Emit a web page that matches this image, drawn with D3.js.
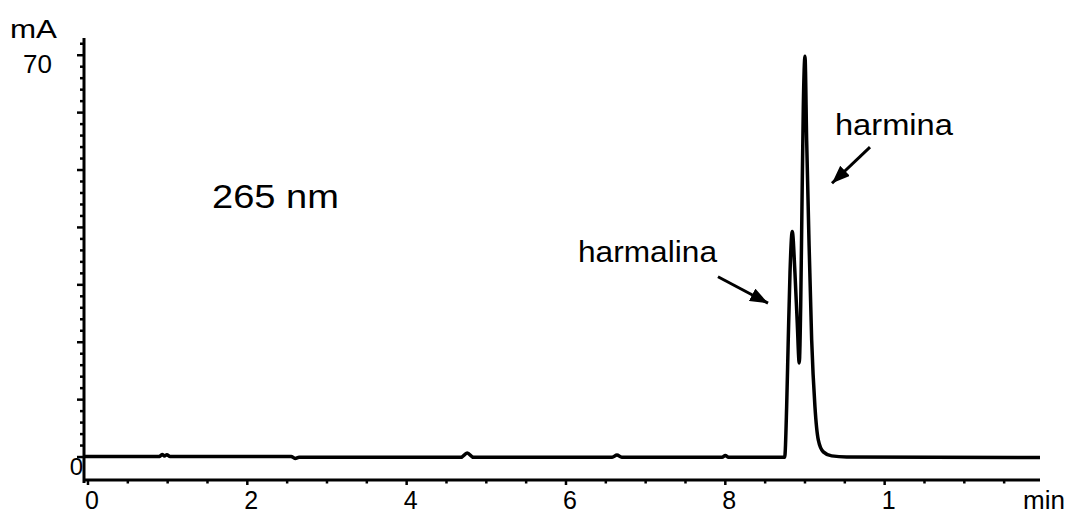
<!DOCTYPE html>
<html>
<head>
<meta charset="utf-8">
<script src="https://cdn.jsdelivr.net/npm/d3@7"></script>
<style>
  body { margin: 0; background: #fff; }
  text { font-family: "Liberation Sans", Arial, Helvetica, sans-serif; fill: #000; }
</style>
</head>
<body>
<script>
//Data
    const times  = [-0.05, 0.90, 0.93, 0.96, 0.99, 1.03, 2.55, 2.60, 2.65, 4.68, 4.76, 4.84,
                    6.58, 6.64, 6.70, 7.96, 8.00, 8.04, 8.745, 8.770, 8.790, 8.812, 8.840,
                    8.874, 8.903, 8.928, 8.946, 8.962, 8.979, 9.000, 9.021, 9.050, 9.084,
                    9.125, 9.167, 9.230, 9.335, 9.523, 11.95];
    const values = [0.1, 0.1, 0.45, 0.2, 0.4, 0.1, 0.1, -0.25, -0.05, -0.05, 0.7, -0.05,
                    -0.05, 0.35, -0.05, -0.05, 0.25, -0.05, -0.05, 8.8, 20.4, 32.1, 39.3,
                    32.1, 23.3, 16.4, 26.2, 43.6, 61.0, 69.8, 55.2, 37.8, 20.4,
                    8.8, 3.0, 0.9, 0.2, 0.0, -0.1];

    const xMajorTicks = [0, 2, 4, 6, 8, 10];
    const xTickLabels = ["0", "2", "4", "6", "8", "1"];
    const yMajorTicks = [0, 10, 20, 30, 40, 50, 60, 70];
    const yTickLabels = [{v: 0, text: "0"}, {v: 70, text: "70"}];

    // peak labels and arrows, in data units
    const labels = [
        {text: "265 nm",    t: 1.557, v: 43.4, size: 33, len: 127},
        {text: "harmalina", t: 6.151, v: 34.0, size: 30, len: 139},
        {text: "harmina",   t: 9.376, v: 56.1, size: 30, len: 118}
    ];
    const arrows = [
        {t0: 7.908, v0: 31.4, t1: 8.536, v1: 26.8},
        {t0: 9.816, v0: 54.0, t1: 9.339, v1: 47.7}
    ];

//Svg creation
    const width = 1071;
    const height = 515;

    const svg = d3.select("body")
                    .append("svg")
                    .attr("width", width)
                    .attr("height", height);

    const x = d3.scaleLinear().domain([-0.05, 11.95]).range([84, 1040]);
    const y = d3.scaleLinear().domain([-4, 73]).range([480, 38]);

//Axes
    const xAxis = svg.append("g").attr("transform", `translate(0,${y(-4)})`);
    xAxis.append("line")
        .attr("x1", x(-0.05)).attr("x2", x(11.95))
        .attr("stroke", "#000").attr("stroke-width", 3);
    xAxis.selectAll("line.minor")
        .data(d3.range(0, 12, 0.5))
        .join("line")
        .attr("class", "minor")
        .attr("x1", d => x(d)).attr("x2", d => x(d))
        .attr("y1", 0).attr("y2", d => xMajorTicks.includes(d) ? 5 : 3.5)
        .attr("stroke", "#000").attr("stroke-width", 2.5);
    xAxis.selectAll("text")
        .data(xMajorTicks)
        .join("text")
        .attr("x", d => x(d) + 4)
        .attr("y", 29)
        .attr("text-anchor", "middle")
        .style("font-size", "25px")
        .text((d, i) => xTickLabels[i]);
    svg.append("text")
        .attr("x", 1023).attr("y", 509)
        .attr("textLength", 42).attr("lengthAdjust", "spacingAndGlyphs")
        .style("font-size", "26px")
        .text("min");

    const yAxis = svg.append("g").attr("transform", `translate(${x(-0.05)},0)`);
    yAxis.append("line")
        .attr("y1", y(73)).attr("y2", y(-4) + 3)
        .attr("stroke", "#000").attr("stroke-width", 3);
    yAxis.selectAll("line.tick")
        .data(d3.range(0, 73, 2))
        .join("line")
        .attr("class", "tick")
        .attr("y1", d => y(d)).attr("y2", d => y(d))
        .attr("x1", d => yMajorTicks.includes(d) ? -7 : -4).attr("x2", 0)
        .attr("stroke", "#000").attr("stroke-width", 2.5);
    yAxis.selectAll("text")
        .data(yTickLabels)
        .join("text")
        .attr("x", d => d.v === 0 ? -1 : -32)
        .attr("y", d => y(d.v) + 18)
        .attr("text-anchor", "end")
        .style("font-size", d => d.v === 0 ? "24px" : "26px")
        .text(d => d.text);
    svg.append("text")
        .attr("x", 10).attr("y", 38)
        .attr("textLength", 47).attr("lengthAdjust", "spacingAndGlyphs")
        .style("font-size", "26px")
        .text("mA");

//Signal
    const line = d3.line()
                    .x(d => x(d[0]))
                    .y(d => y(d[1]))
                    .curve(d3.curveMonotoneX);

    svg.append("path")
        .datum(d3.zip(times, values))
        .attr("d", line)
        .attr("fill", "none")
        .attr("stroke", "#000")
        .attr("stroke-width", 3.5)
        .attr("stroke-linejoin", "round");

//Annotations
    svg.append("defs").append("marker")
        .attr("id", "head")
        .attr("markerUnits", "userSpaceOnUse")
        .attr("viewBox", "0 0 18 14")
        .attr("refX", 18).attr("refY", 7)
        .attr("markerWidth", 18).attr("markerHeight", 14)
        .attr("orient", "auto")
        .append("path")
        .attr("d", "M0,0 L18,7 L0,14 Z")
        .attr("fill", "#000");

    svg.selectAll("line.arrow")
        .data(arrows)
        .join("line")
        .attr("class", "arrow")
        .attr("x1", d => x(d.t0)).attr("y1", d => y(d.v0))
        .attr("x2", d => x(d.t1)).attr("y2", d => y(d.v1))
        .attr("stroke", "#000").attr("stroke-width", 3)
        .attr("marker-end", "url(#head)");

    svg.selectAll("text.label")
        .data(labels)
        .join("text")
        .attr("class", "label")
        .attr("x", d => x(d.t))
        .attr("y", d => y(d.v))
        .attr("textLength", d => d.len)
        .attr("lengthAdjust", "spacingAndGlyphs")
        .style("font-size", d => d.size + "px")
        .text(d => d.text);
</script>
</body>
</html>
